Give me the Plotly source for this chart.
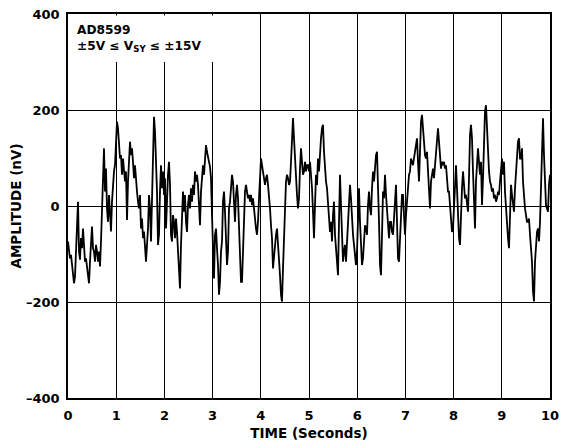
import numpy as np
import plotly.graph_objects as go

# Noise amplitude (nV), roughly one sample per screen pixel
noise_a = [-74,-95,-109,-102,-123,-144,-161,-147,-95,-60,
           9,-95,-112,-67,-88,-47,-81,-116,-109,-130,
           -144,-161,-116,-74,-43,-88,-95,-116,-81,-95,
           -116,-95,-126,-74,-19,44,120,30,78,-5,
           -33,23,-26,-53,9,58,72,85,127,176,
           162,134,99,106,65,99,78,51,72,-29,
           51,113,134,106,120,92,58,85,44,30,
           9,-5,23,-47,-26,-67,-53,-81,-116,-81,
           -47]
noise_b = [23,-5,-74,23,127,186,155,92,30,-81,
           -60,30,85,37,72,23,58,-47,16,65,
           92,44,-60,-74,-19,-33,-67,-26,-54,-95,
           -158,-172,-81,2,30,-12,23,-33,-54,2,
           23,-5,37,9,44,23,72,51,65,44,
           9,-40,30,65,85,65,113,127,113,99,
           92,82,58,-19,-116,-151,-60,-47,-88,-123,
           -185,-158,-95,-74,9,30,-12,-74,-123,-95]
noise_c = [-5,9,44,65,51,-12,-33,23,44,16,
           -54,-116,-158,-158,-81,2,30,44,30,16,
           23,9,23,2,16,-12,-33,-47,-60,-33,
           16,65,99,85,72,58,44,58,65,44,
           23,-5,-40,-67,-130,-102,-88,-60,-47,-74,
           -102,-144,-185,-199,-130,-54,16,51,65,58,
           44,51,92,141,183,141,92,58,23,-5,
           16,78,120,92,65,72,92,72,85,85]
noise_d = [72,92,65,37,-12,-67,2,65,44,99,
           72,127,141,162,169,113,65,51,37,9,
           -19,-54,-33,-74,-19,9,-60,-95,-130,-144,
           -33,65,2,-88,-116,-95,-81,-116,-74,-33,
           23,44,16,-33,-60,-81,-109,-123,-95,-5,
           37,-33,-102,-123,-109,-60,-40,-47,-60,2,
           30,-5,-19,37,72,51,85,106,113,51,
           -33,-123,-144,-60,30,16,65,23,-5,-26]
noise_e = [-67,-33,-33,-54,-60,-26,23,44,-33,-109,
           -116,-60,-5,23,23,-33,-60,-19,16,44,
           65,72,99,92,85,99,113,134,141,92,
           51,113,176,190,148,134,106,99,113,72,
           30,-5,51,72,78,58,85,120,148,162,
           134,99,78,92,85,92,78,85,65,30,
           30,2,-33,-54,-47,9,51,85,37,-19,
           -67,-81,-12,37,72,51,16,23,9,-12]
noise_f = [58,148,169,141,72,2,-47,51,106,120,
           92,65,92,2,58,127,197,210,162,106,
           72,51,44,30,37,16,23,9,16,30,
           23,51,85,99,65,92,30,-12,-40,-67,
           -88,9,44,23,-5,-12,37,78,106,134,
           141,99,99,120,51,16,-5,-19,-33,-33,
           -26,-60,-81,-116,-178,-199,-116,-67,-54,-47,
           -74,-33,58,148,183,106,44,2,-5,-12,
           44,65]

x_ticks = [0, 1, 2, 3, 4, 5, 6, 7, 8, 9, 10]
y_ticks = [-400, -200, 0, 200, 400]
y_labels = ["–400", "–200", "0", "200", "400"]

amplitude = np.concatenate([noise_a, noise_b, noise_c, noise_d, noise_e, noise_f])
time_s = np.linspace(0, 10, len(amplitude))

FONT = "DejaVu Sans, sans-serif"
tick_font = dict(family=FONT, size=13, color="black", weight="bold")
title_font = dict(family=FONT, size=13.5, color="black", weight="bold")

fig = go.Figure()
fig.add_trace(go.Scatter(x=time_s, y=amplitude, mode="lines",
                         line=dict(color="black", width=1.8), showlegend=False,
                         hoverinfo="skip"))

axis_common = dict(showgrid=True, gridcolor="black", gridwidth=1,
                   showline=True, linecolor="black", linewidth=1.5, mirror=True,
                   zeroline=False, ticks="outside",
                   tickcolor="rgba(0,0,0,0)", automargin=False,
                   ticklabeloverflow="allow", tickfont=tick_font)

fig.update_xaxes(range=[0, 10], tickvals=x_ticks, ticklen=5,
                 title=dict(text="TIME (Seconds)", standoff=6, font=title_font),
                 **axis_common)
fig.update_yaxes(range=[-400, 400], tickvals=y_ticks, ticktext=y_labels, ticklen=4,
                 title=dict(text="AMPLITUDE (nV)", standoff=8, font=title_font),
                 **axis_common)

# white label box covering the grid in the top-left corner
fig.add_shape(type="rect", xref="paper", yref="paper",
              x0=0.003, x1=0.307, y0=0.875, y1=0.996,
              fillcolor="white", line=dict(width=0), layer="above")
fig.add_annotation(xref="paper", yref="paper", x=0.0145, y=0.982,
                   xanchor="left", yanchor="top", align="left", showarrow=False,
                   text="AD8599<br>±5V ≤ V<sub>SY</sub> ≤ ±15V",
                   font=dict(family=FONT, size=12.2, color="black", weight="bold"))

# the page adds an 8px body margin, so the figure is 8px smaller on each side
fig.update_layout(width=561, height=440,
                  margin=dict(l=60, r=19, t=6, b=50, autoexpand=False),
                  paper_bgcolor="white", plot_bgcolor="white",
                  font=dict(family=FONT, color="black"))

fig.write_html("out.html")
